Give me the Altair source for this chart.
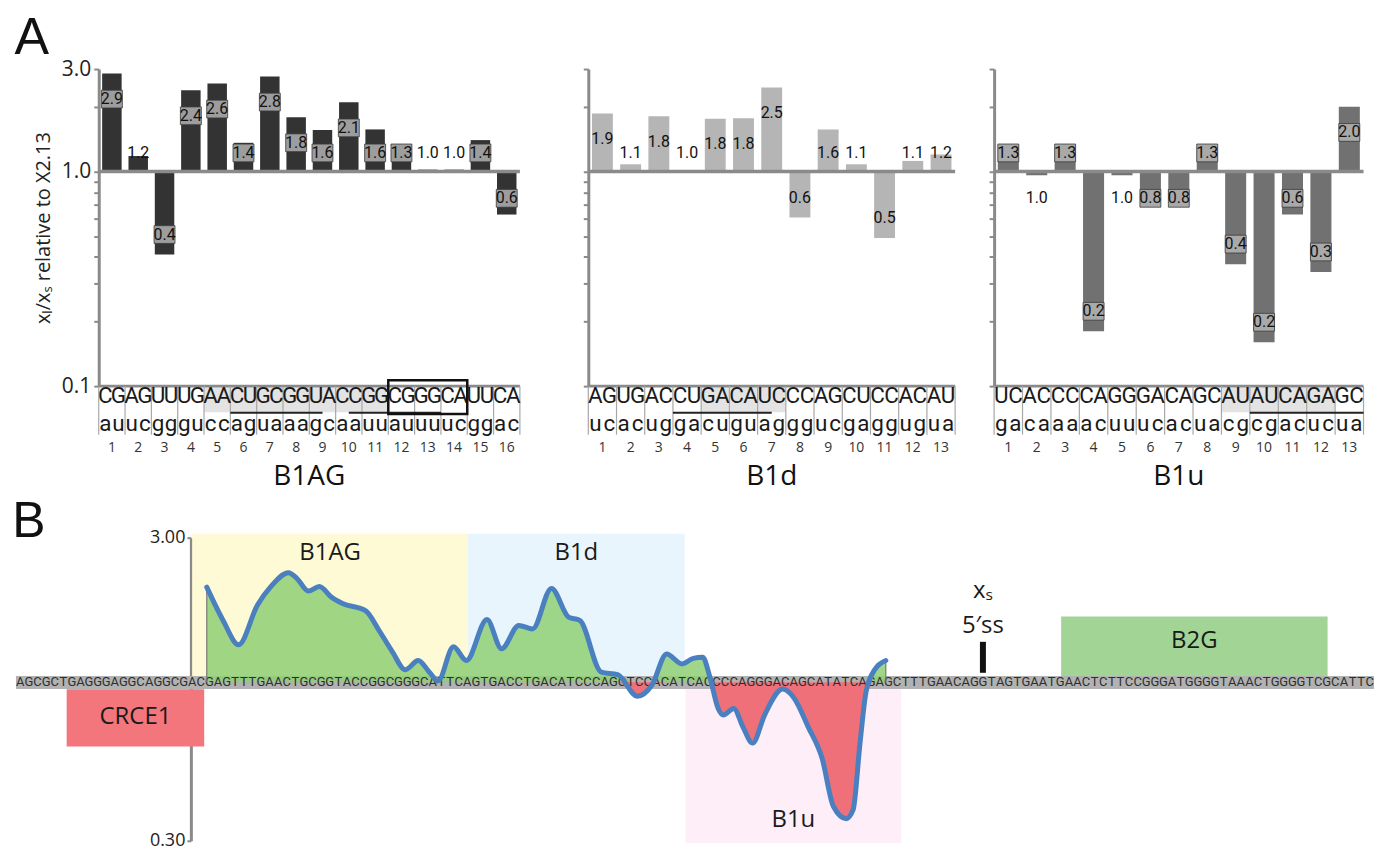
import altair as alt
import pandas as pd

# ---------------- Panel A: ratios ----------------
b1ag_values = [2.86, 1.18, 0.41, 2.39, 2.57, 1.36, 2.77, 1.79, 1.56, 2.10, 1.57, 1.26, 1.02, 1.02, 1.40, 0.63]
b1ag_upper = ["CG", "AG", "UU", "UG", "AA", "CU", "GC", "GG", "UA", "CC", "GG", "CG", "GG", "CA", "UU", "CA"]
b1ag_lower = ["au", "uc", "gg", "gu", "cc", "ag", "ua", "aa", "gc", "aa", "uu", "au", "uu", "uc", "gg", "ac"]
b1ag_shaded = [[4.5, 11.5]]
b1ag_underlined = [[5.5, 9.0], [10.0, 13.5]]
b1ag_boxed = [[11.5, 14.5]]

b1d_values = [1.86, 1.08, 1.81, 1.01, 1.76, 1.77, 2.46, 0.61, 1.57, 1.08, 0.49, 1.12, 1.20]
b1d_upper = ["AG", "UG", "AC", "CU", "GA", "CA", "UC", "CC", "AG", "CU", "CC", "AC", "AU"]
b1d_lower = ["uc", "ac", "ug", "ga", "cu", "gu", "ag", "gg", "uc", "ga", "gg", "ug", "ua"]
b1d_shaded = [[4.5, 7.5]]
b1d_underlined = [[3.5, 7.0]]

b1u_values = [1.31, 0.96, 1.31, 0.18, 0.96, 0.81, 0.78, 1.31, 0.37, 0.16, 0.63, 0.34, 2.00]
b1u_upper = ["UC", "AC", "CC", "CA", "GG", "GA", "CA", "GC", "AU", "AU", "CA", "GA", "GC"]
b1u_lower = ["ga", "ca", "aa", "ac", "uu", "uc", "ac", "ua", "cg", "cg", "ac", "uc", "ua"]
b1u_shaded = [[8.5, 12.5]]
b1u_underlined = [[9.5, 13.5]]

# ---------------- Panel B ----------------
sequence = ("AGCGCTGAGGGAGGCAGGCGACGAGTTTGAACTGCGGTACCGGCGGGCATT"
            "CAGTGACCTGACATCCCAGCTCCACATCACCCCAGGGACAGCATATCAGAGC"
            "TTTGAACAGGTAGTGAATGAACTCTTCCGGGATGGGGTAAACTGGGGTCGCATTC")
regions = ["B1AG", "B1d", "B1u", "CRCE1", "B2G"]
region_start = [20.5, 52.6, 77.9, 5.9, 121.6]
region_end = [52.6, 77.8, 103.0, 21.9, 152.6]
region_low = [1.05, 1.05, 0.295, 0.614, 1.05]
region_high = [3.09, 3.09, 0.948, 0.948, 1.65]
region_label_y = [2.67, 2.67, 0.35, 0.766, 1.372]

profile_pos = [22.2, 24.1, 25.9, 28.1, 29.6, 31.7, 32.7, 34.0, 35.3, 36.7, 38.0, 40.7, 42.2,
               43.8, 45.3, 46.8, 48.1, 49.1, 50.9, 52.4, 54.8, 56.5, 58.5, 60.1, 62.3, 64.3,
               65.6, 68.1, 70.0, 72.3, 74.0, 75.7, 77.5, 78.8, 79.9, 80.7, 81.7, 82.3, 83.5,
               84.6, 85.7, 87.1, 89.2, 90.5, 92.2, 93.8, 95.1, 96.6, 97.4, 98.2, 98.9, 99.9, 101.2]
profile_ratio = [2.06, 1.60, 1.33, 1.80, 2.06, 2.30, 2.20, 2.00, 2.07, 1.91, 1.82, 1.72, 1.49,
                 1.26, 1.10, 1.18, 1.08, 1.01, 1.31, 1.18, 1.61, 1.29, 1.54, 1.50, 2.04, 1.64,
                 1.60, 1.08, 1.06, 0.90, 0.98, 1.24, 1.15, 1.20, 1.21, 1.05, 0.82, 0.78, 0.82,
                 0.71, 0.63, 0.78, 0.95, 0.89, 0.71, 0.56, 0.39, 0.355, 0.38, 0.63, 0.93, 1.10, 1.18]
ss_pos = 112.5
ss_low, ss_high = 1.075, 1.36

# ---------------- styles / layout ----------------
FONT = "Open Sans"
NARROW = "Liberation Sans Narrow, Roboto"
GREY_AX = "#8a8a8a"
PLOT_H = 318
TAB_H = 95
TAB_ROWS = 4.0
ROW_UP, ROW_LINE, ROW_LO, ROW_SEP, ROW_NUM, ROW_TITLE = 0.42, 1.12, 1.58, 2.05, 2.6, 3.82
LOG_TICKS = [0.1, 0.2, 0.3, 0.4, 0.5, 0.6, 0.7, 0.8, 0.9, 1, 2, 3]
LBL = "(datum.value==0.1||datum.value==1||datum.value==3) ? format(datum.value,'.1f') : ''"
BOX_PATH = "M-1,-0.85L1,-0.85L1,0.85L-1,0.85Z"
Y_TITLE = "x\u2097/x\u209b relative to X2.13"


def a_axis(first):
    kw = dict(values=LOG_TICKS, labelExpr=LBL, labelOverlap=False, labels=first, grid=False,
              domainColor=GREY_AX, domainWidth=3, tickColor=GREY_AX, tickWidth=2, tickSize=5,
              labelFont=FONT, labelFontSize=21, labelColor="#222", labelPadding=3)
    if first:
        kw.update(title=Y_TITLE, titleFont=FONT, titleFontSize=20, titleFontWeight="normal",
                  titleColor="#222", titlePadding=8)
    else:
        kw.update(title=None)
    return alt.Axis(**kw)


def make_panel(title, values, upper, lower, shaded, underlined, boxed, colw, bar_color, box_color, first):
    n = len(values)
    xsc = alt.Scale(domain=[0.5, n + 0.5], nice=False, zero=False)
    ysc = alt.Scale(type="log", domain=[0.1, 3], range=[PLOT_H, 0], nice=False)
    tsc = alt.Scale(domain=[0, TAB_ROWS], range=[PLOT_H, PLOT_H + TAB_H], nice=False, zero=False)
    yax = a_axis(first)

    def X(f):
        return alt.X(f, scale=xsc, axis=None)

    def Y(f):
        return alt.Y(f, scale=ysc, axis=yax)

    def T(d):
        return alt.Y(datum=d, scale=tsc, axis=None)

    df = pd.DataFrame({"col": list(range(1, n + 1)), "v": values})
    base = alt.Chart(df).transform_calculate(
        x0="datum.col - 0.37", x1="datum.col + 0.37",
        ly="datum.v >= 1 ? max(datum.v * 0.76, 1.22) : min(datum.v * 1.24, 0.75)",
        lab="format(datum.v, '.1f')")
    bars = base.mark_rect(color=bar_color).encode(x=X("x0:Q"), x2="x1:Q", y=Y("v:Q"), y2=alt.datum(1))
    labels = base.mark_text(font=NARROW, fontSize=16, color="#111", baseline="middle").encode(
        x=X("col:Q"), y=Y("ly:Q"), text="lab:N")
    baseline = base.transform_aggregate(lo="min(col)", hi="max(col)").transform_calculate(
        a="datum.lo - 0.5", b="datum.hi + 0.5").mark_rule(color=GREY_AX, strokeWidth=3.5).encode(
        x=X("a:Q"), x2="b:Q", y=alt.Y(datum=1, scale=ysc, axis=yax))
    up_layers = [bars]
    if box_color:
        up_layers.append(base.transform_filter("datum.v >= 1.25 || datum.v <= 0.85").mark_point(
            shape=BOX_PATH, filled=True, size=441, fill=box_color, stroke="#3a3a3a",
            strokeWidth=0.8, opacity=1).encode(x=X("col:Q"), y=Y("ly:Q")))
    up_layers += [labels, baseline]
    if first:
        up_layers.append(alt.Chart(pd.DataFrame({"t": ["A"]})).mark_text(
            font="Liberation Sans", fontSize=52, color="#111", baseline="middle").encode(
            text="t:N", x=alt.X(datum=-2.04, scale=xsc, axis=None),
            y=alt.Y(datum=4.18, scale=ysc, axis=yax)))
    upper_layer = alt.layer(*up_layers)

    rows = []
    for c, (u, l) in enumerate(zip(upper, lower), start=1):
        for k, off in enumerate((-0.25, 0.25)):
            rows.append({"x": c + off, "row": ROW_UP, "t": u[k]})
            rows.append({"x": c + off, "row": ROW_LO, "t": l[k]})
    letters = alt.Chart(pd.DataFrame(rows)).mark_text(
        font="Roboto", fontSize=22.5, color="#1a1a1a", baseline="middle").encode(
        x=X("x:Q"), y=alt.Y("row:Q", scale=tsc, axis=None), text="t:N")
    seps_df = pd.DataFrame({"b": [k + 0.5 for k in range(n + 1)]})
    seps = alt.Chart(seps_df).mark_rule(color="#a8a8a8", strokeWidth=1.2).encode(
        x=X("b:Q"), y=T(0), y2=alt.datum(ROW_SEP))
    topline = alt.Chart(seps_df).transform_aggregate(lo="min(b)", hi="max(b)").mark_rule(
        color=GREY_AX, strokeWidth=3).encode(x=X("lo:Q"), x2="hi:Q", y=T(0))
    shade = alt.Chart(pd.DataFrame(shaded, columns=["a", "b"])).mark_rect(color="#e3e3e3").encode(
        x=X("a:Q"), x2="b:Q", y=T(0.06), y2=alt.datum(1.1))
    under = alt.Chart(pd.DataFrame(underlined, columns=["a", "b"])).mark_rule(
        color="#222", strokeWidth=2).encode(x=X("a:Q"), x2="b:Q", y=T(ROW_LINE))
    nums = alt.Chart(pd.DataFrame({"col": list(range(1, n + 1)), "s": [str(c) for c in range(1, n + 1)]})
                     ).mark_text(font=FONT, fontSize=14, color="#333").encode(
        x=X("col:Q"), y=T(ROW_NUM), text="s:N")
    ttl = alt.Chart(pd.DataFrame({"t": [title], "x": [(n + 1) / 2]})).mark_text(
        font=FONT, fontSize=28, color="#111").encode(x=X("x:Q"), y=T(ROW_TITLE), text="t:N")
    low_layers = [shade, topline, seps, letters, under]
    if boxed:
        low_layers.append(alt.Chart(pd.DataFrame(boxed, columns=["a", "b"])).mark_rect(
            fillOpacity=0, stroke="#111", strokeWidth=2.5).encode(
            x=X("a:Q"), x2="b:Q", y=T(-0.25), y2=alt.datum(1.18)))
    low_layers += [nums, ttl]
    lower_layer = alt.layer(*low_layers)

    return alt.layer(upper_layer, lower_layer).resolve_scale(y="independent").properties(
        width=n * colw, height=PLOT_H + TAB_H)


pL = make_panel("B1AG", b1ag_values, b1ag_upper, b1ag_lower, b1ag_shaded, b1ag_underlined, b1ag_boxed,
                26.4, "#333333", "#9d9d9d", True)
pM = make_panel("B1d", b1d_values, b1d_upper, b1d_lower, b1d_shaded, b1d_underlined, None,
                28.3, "#b5b5b5", None, False)
pR = make_panel("B1u", b1u_values, b1u_upper, b1u_lower, b1u_shaded, b1u_underlined, None,
                28.5, "#717171", "#a9a9a9", False)
rowA = alt.hconcat(pL, alt.hconcat(pM, pR, spacing=31), spacing=60)

# ---------------- Panel B chart ----------------
WB, HB = 1279, 304
XB_MIN, XB_MAX = 9.63, 158.0
xb = alt.Scale(domain=[XB_MIN, XB_MAX], nice=False, zero=False)
yb = alt.Scale(type="log", domain=[0.3, 3], nice=False)
axis_offset = -(20.35 - XB_MIN) / (XB_MAX - XB_MIN) * WB
yb_axis = alt.Axis(values=[0.3, 3], format=".2f", offset=axis_offset, grid=False, title=None,
                   domainColor=GREY_AX, domainWidth=3, tickColor=GREY_AX, tickWidth=2, tickSize=4,
                   labelFont=FONT, labelFontSize=18, labelColor="#222", labelPadding=2)


def XB(f=None, datum=None):
    if datum is not None:
        return alt.X(datum=datum, scale=xb, axis=None)
    return alt.X(f, scale=xb, axis=None)


def YB(f=None, datum=None):
    if datum is not None:
        return alt.Y(datum=datum, scale=yb, axis=yb_axis)
    return alt.Y(f, scale=yb, axis=yb_axis)


REGION_COLORS = ["#fefad5", "#e8f5fc", "#fdeef7", "#f2767b", "#a2d496"]
seq_df = pd.DataFrame({"i": list(range(len(sequence))), "ch": list(sequence)})
reg_df = pd.DataFrame({"name": regions, "start": region_start, "end": region_end,
                       "lo": region_low, "hi": region_high, "ly": region_label_y})
prof_df = pd.DataFrame({"i": profile_pos, "v": profile_ratio})

reg_rects = alt.Chart(reg_df).mark_rect().encode(
    x=XB("start:Q"), x2="end:Q", y=YB("hi:Q"), y2="lo:Q",
    color=alt.Color("name:N", scale=alt.Scale(domain=regions, range=REGION_COLORS), legend=None))
band = alt.Chart(seq_df).transform_aggregate(lo="min(i)", hi="max(i)").transform_calculate(
    hi1="datum.hi + 1").mark_rect(color="#b2b2b2").encode(
    x=XB("lo:Q"), x2="hi1:Q", y=YB(datum=1.05), y2=alt.datum(0.95))
green = alt.Chart(prof_df).transform_calculate(vg="max(datum.v, 1)").mark_area(
    color="#8fcf74", opacity=0.85, interpolate="monotone").encode(x=XB("i:Q"), y=YB("vg:Q"), y2=alt.datum(1))
red = alt.Chart(prof_df).transform_calculate(vr="min(datum.v, 1)").mark_area(
    color="#f0707a", opacity=1, interpolate="monotone").encode(x=XB("i:Q"), y=YB("vr:Q"), y2=alt.datum(1))
seq_text = alt.Chart(seq_df).transform_calculate(xc="datum.i + 0.5").mark_text(
    font=NARROW, fontSize=13, color="#2e2e2e", baseline="middle").encode(
    x=XB("xc:Q"), y=YB(datum=1), text="ch:N")
ends = alt.Chart(prof_df).transform_joinaggregate(mn="min(i)", mx="max(i)").transform_filter(
    "datum.i == datum.mn || datum.i == datum.mx").mark_rule(color="#777", strokeWidth=1.2).encode(
    x=XB("i:Q"), y=YB("v:Q"), y2=alt.datum(1))
line = alt.Chart(prof_df).mark_line(color="#4a7fc0", strokeWidth=5, interpolate="monotone",
                                    strokeCap="round", strokeJoin="round").encode(x=XB("i:Q"), y=YB("v:Q"))
marker = alt.Chart(pd.DataFrame({"p": [ss_pos], "lo": [ss_low], "hi": [ss_high]})).mark_rule(
    color="#111", strokeWidth=6).encode(x=XB("p:Q"), y=YB("lo:Q"), y2="hi:Q")
reg_labels = alt.Chart(reg_df).transform_calculate(cx="(datum.start + datum.end) / 2").mark_text(
    font=FONT, fontSize=24, color="#1a1a1a", baseline="middle").encode(
    x=XB("cx:Q"), y=YB("ly:Q"), text="name:N")
ss_labels = alt.Chart(pd.DataFrame({"t": ["x\u209b", "5\u2032ss"], "p": [ss_pos, ss_pos],
                                    "y": [2.0, 1.53]})).mark_text(
    font=FONT, fontSize=24, color="#1a1a1a", baseline="middle").encode(
    x=XB("p:Q"), y=YB("y:Q"), text="t:N")
big_b = alt.Chart(pd.DataFrame({"t": ["B"]})).mark_text(
    font="Liberation Sans", fontSize=50, color="#111", baseline="middle").encode(
    text="t:N", x=XB(datum=1.5), y=YB(datum=3.39))

pB = alt.layer(reg_rects, band, green, red, seq_text, ends, line, marker, reg_labels, ss_labels, big_b
               ).properties(width=WB, height=HB)

chart = alt.vconcat(rowA, pB, spacing=5).properties(
    padding={"left": 4, "top": 2, "right": 0, "bottom": 0}, background="white"
).configure_view(stroke=None)

chart.save("out.html", embed_options={"renderer": "svg", "actions": False})
